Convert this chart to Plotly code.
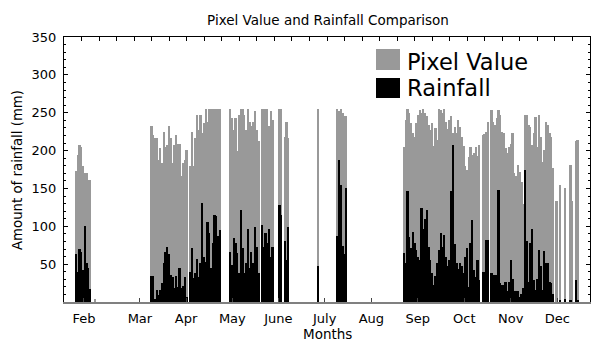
import plotly.graph_objects as go

# ---------------- data ----------------
# x axis = observation index (day number); each segment: first index, pixel values, rainfall (mm)
feb_start = 7
feb_pixel = [173, 194, 208, 205, 179, 170, 170, 161, 161]
feb_rain = [63, 40, 70, 66, 42, 100, 51, 45, 17]

feb2_start = 18
feb2_pixel = [4]
feb2_rain = [0]

mar_start = 50
mar_pixel = [232, 220, 216, 216, 188, 203, 183, 224, 205, 207, 232, 216, 183, 207, 220, 209, 209, 166, 183, 187, 201]
mar_rain = [34, 34, 4, 16, 9, 16, 25, 51, 66, 73, 63, 36, 33, 18, 34, 20, 45, 18, 21, 33, 7]

apr_start = 72
apr_pixel = [179, 225, 179, 216, 247, 227, 247, 223, 236, 255, 238, 255, 255, 255, 255, 255, 255, 255]
apr_rain = [40, 71, 32, 38, 57, 33, 51, 131, 60, 53, 106, 91, 45, 78, 115, 113, 87, 95]

may_start = 95
may_pixel = [255, 243, 227, 243, 199, 247, 255, 255, 247, 227, 255, 238, 232, 238, 252, 227, 212]
may_rain = [66, 49, 84, 78, 65, 38, 121, 71, 38, 51, 97, 45, 66, 51, 99, 73, 38]

jun1_start = 113
jun1_pixel = [255, 255, 255, 255, 232, 252, 241]
jun1_rain = [102, 73, 91, 78, 97, 60, 73]

jun2_start = 123
jun2_pixel = [255, 255]
jun2_rain = [128, 115]

jun3_start = 126
jun3_pixel = [218, 238, 216]
jun3_rain = [81, 55, 99]

jul1_start = 145
jul1_pixel = [255]
jul1_rain = [47]

jul2_start = 156
jul2_pixel = [255, 252, 255, 250, 246, 246]
jul2_rain = [87, 188, 155, 74, 63, 150]

sep_start = 194
sep_pixel = [205, 240, 255, 250, 236, 223, 218, 236, 247, 253, 250, 255, 250, 246, 234, 227, 237, 206, 230, 214,
             255, 254, 250, 255, 238, 229, 240, 246, 223, 231, 223, 240, 231, 218, 206, 179, 175, 192, 205, 194,
             197, 205, 193, 208]
sep_rain = [65, 51, 146, 86, 71, 93, 78, 69, 60, 55, 124, 97, 110, 122, 73, 55, 38, 22, 35, 51,
            69, 91, 73, 88, 60, 47, 55, 146, 207, 76, 51, 44, 51, 47, 38, 60, 71, 20, 78, 108,
            42, 33, 55, 29]

oct1_start = 239
oct1_pixel = [220, 222, 225, 238]
oct1_rain = [40, 40, 82, 82]

oct2_start = 244
oct2_pixel = [254, 238, 234, 243, 254, 247, 225, 223, 203, 197, 205, 209, 223, 170, 166, 181, 172, 159, 130, 247,
              247, 234, 231, 207, 223, 245, 205, 247, 218, 185, 201, 238, 234, 223, 218, 177]
oct2_rain = [38, 36, 36, 36, 148, 25, 22, 22, 27, 14, 27, 55, 31, 14, 14, 14, 7, 11, 18, 174,
             80, 27, 78, 97, 29, 16, 31, 69, 47, 16, 67, 51, 51, 27, 25, 11]

dec_days = [281, 283, 286, 289, 290, 292, 293]
dec_pixel = [133, 155, 151, 181, 133, 212, 214]
dec_rain = [0, 2, 4, 2, 0, 29, 3]

month_pos = [11.4, 43.3, 69.6, 96.0, 122.3, 148.7, 175.3, 201.8, 228.3, 254.8, 281.3]
month_labels = ["Feb", "Mar", "Apr", "May", "June", "July", "Aug", "Sep", "Oct", "Nov", "Dec"]
y_ticks = [50, 100, 150, 200, 250, 300, 350]

# ---------------- assemble ----------------
segments = [
    (feb_start, feb_pixel, feb_rain), (feb2_start, feb2_pixel, feb2_rain),
    (mar_start, mar_pixel, mar_rain), (apr_start, apr_pixel, apr_rain),
    (may_start, may_pixel, may_rain), (jun1_start, jun1_pixel, jun1_rain), (jun2_start, jun2_pixel, jun2_rain),
    (jun3_start, jun3_pixel, jun3_rain), (jul1_start, jul1_pixel, jul1_rain), (jul2_start, jul2_pixel, jul2_rain),
    (sep_start, sep_pixel, sep_rain), (oct1_start, oct1_pixel, oct1_rain), (oct2_start, oct2_pixel, oct2_rain),
]
days, pixel, rain = [], [], []
for start, p, r in segments:
    for k in range(len(p)):
        days.append(start + k)
        pixel.append(p[k])
        rain.append(r[k])
days += dec_days
pixel += dec_pixel
rain += dec_rain

GRAY = "#999999"
FONT = "DejaVu Sans"

W, H = 592, 342
L, R, T, B = 64, 2, 37, 40
PW, PH = W - L - R, H - T - B


def px(x):
    return (x - L) / PW


def py(y):
    return (H - B - y) / PH


fig = go.Figure()
fig.add_trace(go.Bar(x=days, y=pixel, width=1, name="Pixel Value", opacity=1,
                     marker=dict(color=GRAY, line=dict(width=0)), xaxis="x", yaxis="y",
                     showlegend=False))
fig.add_trace(go.Bar(x=days, y=rain, width=1, name="Rainfall", opacity=1,
                     marker=dict(color="black", line=dict(width=0)), xaxis="x2", yaxis="y",
                     showlegend=False))

fig.update_layout(
    template="none",
    width=W, height=H,
    margin=dict(l=L, r=R, t=T, b=B, autoexpand=False),
    paper_bgcolor="white", plot_bgcolor="white",
    barmode="overlay", bargap=0,
    font=dict(family=FONT, size=13, color="black"),
    xaxis=dict(range=[0, 300], tickvals=month_pos, ticktext=month_labels, automargin=False,
               ticks="inside", ticklen=4, tickcolor="#444", showgrid=False, zeroline=False,
               showline=True, linecolor="#808080", linewidth=1.5, ticklabelstandoff=4,
               tickfont=dict(family=FONT, size=13)),
    xaxis2=dict(range=[0, 300], overlaying="x", side="top", matches="x", automargin=False,
                tickvals=list(range(10, 300, 10)), ticks="inside", ticklen=4, tickcolor="black",
                showticklabels=False, showgrid=False, zeroline=False,
                showline=True, linecolor="black", linewidth=1),
    yaxis=dict(range=[0, 350], tickvals=y_ticks, ticks="inside", ticklen=4, tickcolor="black",
               automargin=False, ticklabelstandoff=4,
               showgrid=False, zeroline=False, showline=True, linecolor="black", linewidth=1,
               mirror="ticks", tickfont=dict(family=FONT, size=13),
               minor=dict(dtick=10, tick0=0, ticks="inside", ticklen=2, tickcolor="black")),
    title=dict(text="Pixel Value and Rainfall Comparison", x=328 / W, xanchor="center",
               y=1 - 20 / H, yanchor="middle", yref="container",
               font=dict(family=FONT, size=13.5, color="black")),
)

fig.add_annotation(text="Months", xref="paper", yref="paper", x=px(327), y=py(334),
                   showarrow=False, xanchor="center", yanchor="middle",
                   font=dict(family=FONT, size=13.5))
fig.add_annotation(text="Amount of rainfall (mm)", xref="paper", yref="paper", x=px(17), y=py(170),
                   textangle=-90, showarrow=False, xanchor="center", yanchor="middle",
                   font=dict(family=FONT, size=13.3))

# legend (drawn manually to match the large keys)
fig.add_shape(type="rect", xref="paper", yref="paper", x0=px(376), x1=px(400), y0=py(70), y1=py(49),
              fillcolor=GRAY, line=dict(width=0))
fig.add_shape(type="rect", xref="paper", yref="paper", x0=px(376), x1=px(400), y0=py(98), y1=py(78),
              fillcolor="black", line=dict(width=0))
fig.add_annotation(text="Pixel Value", xref="paper", yref="paper", x=px(405), y=py(62),
                   showarrow=False, xanchor="left", yanchor="middle", font=dict(family=FONT, size=22.5))
fig.add_annotation(text="Rainfall", xref="paper", yref="paper", x=px(405), y=py(88),
                   showarrow=False, xanchor="left", yanchor="middle", font=dict(family=FONT, size=22.5))

fig.write_html("out.html", config={"displayModeBar": False},
               post_script="document.body.style.margin='0';")
